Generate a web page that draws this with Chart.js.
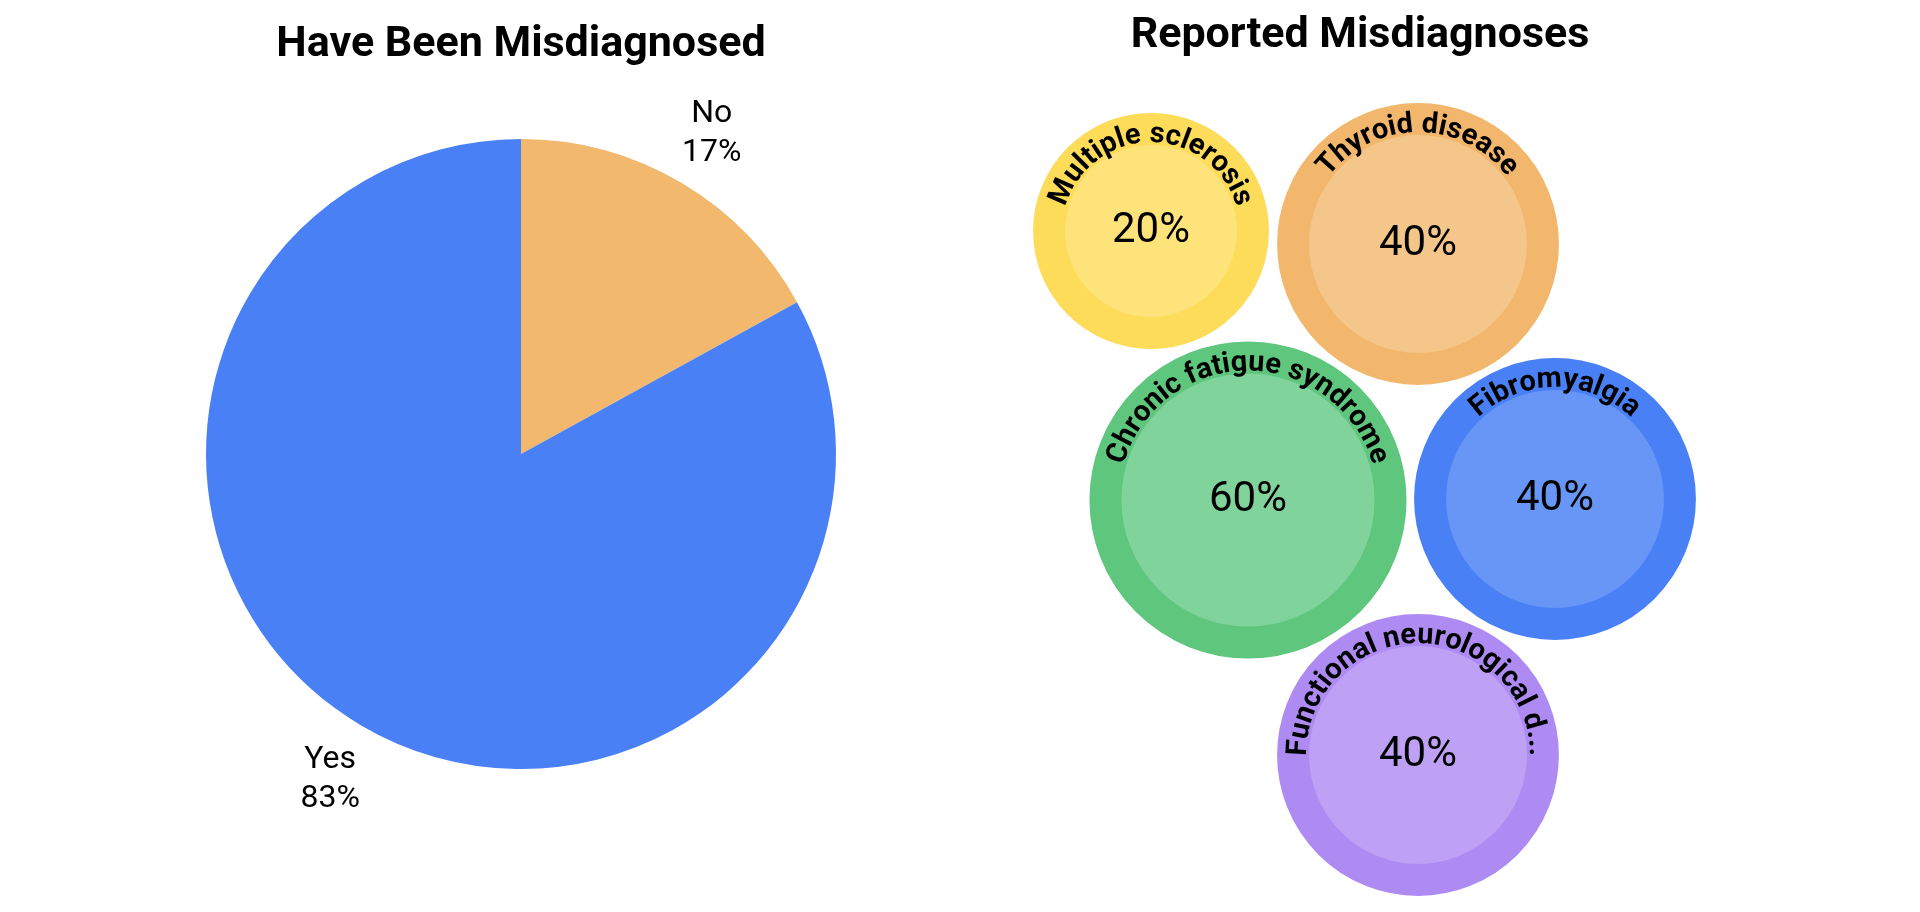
<!DOCTYPE html>
<html>
<head>
<meta charset="utf-8">
<title>Misdiagnoses</title>
<script src="https://cdn.jsdelivr.net/npm/chart.js@4.4.1/dist/chart.umd.min.js"></script>
<style>
  html, body { margin: 0; padding: 0; background: #fff; }
  body { width: 1920px; height: 912px; position: relative; overflow: hidden; }
  .box { position: absolute; top: 0; height: 912px; }
  #leftBox { left: 0; width: 1032px; }
  #rightBox { left: 800px; width: 1120px; }
</style>
</head>
<body>
<div class="box" id="leftBox"><canvas id="pieChart"></canvas></div>
<div class="box" id="rightBox"><canvas id="bubbleChart"></canvas></div>
<script>
// ---- data ----
const pieLabels = ['No', 'Yes'];
const pieValues = [17, 83];

const diagLabels = ['Multiple sclerosis', 'Thyroid disease', 'Chronic fatigue syndrome', 'Fibromyalgia', 'Functional neurological disorder'];
const diagValues = [20, 40, 60, 40, 40];

// packed layout of the bubbles (page pixels)
const packX = [1151, 1418, 1248, 1555, 1418];
const packY = [231, 244, 500, 499, 755];

// ---- styles ----
const FONT = 'Roboto, "Noto Sans", sans-serif';
const pieColors = ['#F2B86D', '#4A80F5'];
const ringColors = ['#FDDC5A', '#F2B76C', '#5FC67D', '#4A80F5', '#AE8BF2'];
const fillColors = ['#FEE27A', '#F4C689', '#7FD39B', '#6896F6', '#BEA1F5'];
const RING = 32;
const TITLE_SIZE = 43;

function bubbleRadius(v) {
  // outer edge grows with sqrt of value, r is the middle of the ring
  return 62.5 + 12.4 * Math.sqrt(v) - RING / 2;
}

/************ pie labels ************/
const pieLabelPlugin = {
  id: 'pieLabels',
  afterDatasetsDraw(chart) {
    const ctx = chart.ctx;
    const arcs = chart.getDatasetMeta(0).data;
    ctx.save();
    ctx.font = '32px ' + FONT;
    ctx.fillStyle = '#000';
    ctx.textAlign = 'center';
    ctx.textBaseline = 'middle';
    arcs.forEach(function (arc, i) {
      const p = arc.getProps(['x', 'y', 'startAngle', 'endAngle', 'outerRadius'], true);
      const mid = (p.startAngle + p.endAngle) / 2;
      const d = p.outerRadius * 1.19;
      const x = p.x + Math.cos(mid) * d;
      const y = p.y + Math.sin(mid) * d + 2;
      ctx.fillText(pieLabels[i], x, y - 19);
      ctx.fillText(pieValues[i] + '%', x, y + 20);
    });
    ctx.restore();
  }
};

new Chart(document.getElementById('pieChart'), {
  type: 'pie',
  data: {
    labels: pieLabels,
    datasets: [{
      data: pieValues,
      backgroundColor: pieColors,
      borderWidth: 0,
      hoverOffset: 0
    }]
  },
  options: {
    responsive: true,
    maintainAspectRatio: false,
    animation: false,
    layout: { padding: { left: 206, right: 196, top: 0, bottom: 143 } },
    plugins: {
      legend: { display: false },
      tooltip: { enabled: false },
      title: {
        display: true,
        text: 'Have Been Misdiagnosed',
        color: '#000',
        font: { family: FONT, size: TITLE_SIZE, weight: 'bold' },
        padding: { top: 19, bottom: 68.4 }
      }
    }
  },
  plugins: [pieLabelPlugin]
});

/************ bubble labels ************/
function shortLabel(s) {
  return s.length > 25 ? s.slice(0, 25) + '...' : s;
}

function drawArcText(ctx, text, cx, cy, radius) {
  const total = ctx.measureText(text).width;
  const start = -Math.PI / 2 - total / radius / 2;
  for (let i = 0; i < text.length; i++) {
    const ch = text[i];
    const before = ctx.measureText(text.slice(0, i)).width;
    const w = ctx.measureText(ch).width;
    const a = start + (before + w / 2) / radius;
    ctx.save();
    ctx.translate(cx + Math.cos(a) * radius, cy + Math.sin(a) * radius);
    ctx.rotate(a + Math.PI / 2);
    ctx.fillText(ch, 0, 0);
    ctx.restore();
  }
}

const bubbleLabelPlugin = {
  id: 'bubbleLabels',
  afterDatasetsDraw(chart) {
    const ctx = chart.ctx;
    const pts = chart.getDatasetMeta(0).data;
    ctx.save();
    ctx.fillStyle = '#000';
    ctx.textAlign = 'center';
    pts.forEach(function (pt, i) {
      const r = pt.options.radius;
      ctx.font = '42px ' + FONT;
      ctx.textBaseline = 'middle';
      ctx.fillText(diagValues[i] + '%', pt.x, pt.y);
      ctx.font = 'bold 29px ' + FONT;
      ctx.textBaseline = 'alphabetic';
      drawArcText(ctx, shortLabel(diagLabels[i]), pt.x, pt.y, r - RING / 2 + 3);
    });
    ctx.restore();
  }
};

new Chart(document.getElementById('bubbleChart'), {
  type: 'bubble',
  data: {
    labels: diagLabels,
    datasets: [{
      data: diagValues.map(function (v, i) {
        return { x: packX[i], y: packY[i], r: bubbleRadius(v) };
      }),
      backgroundColor: fillColors,
      borderColor: ringColors,
      borderWidth: RING,
      hoverRadius: 0,
      clip: false
    }]
  },
  options: {
    responsive: true,
    maintainAspectRatio: false,
    animation: false,
    layout: { autoPadding: false, padding: 0 },
    scales: {
      x: { type: 'linear', display: false, min: 800, max: 1920 },
      y: { type: 'linear', display: false, min: 10 + TITLE_SIZE * 1.2, max: 912, reverse: true }
    },
    plugins: {
      legend: { display: false },
      tooltip: { enabled: false },
      title: {
        display: true,
        text: 'Reported Misdiagnoses',
        color: '#000',
        font: { family: FONT, size: TITLE_SIZE, weight: 'bold' },
        padding: { top: 10, bottom: 0 }
      }
    }
  },
  plugins: [bubbleLabelPlugin]
});
</script>
</body>
</html>
